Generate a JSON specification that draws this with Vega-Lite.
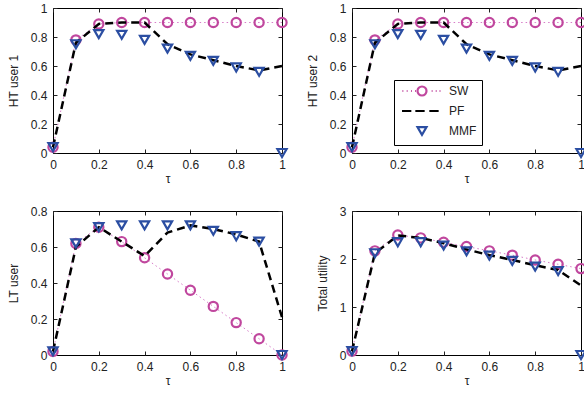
{
  "$schema": "https://vega.github.io/schema/vega-lite/v6.json",
  "padding": {"left": 6, "top": 1, "right": 0, "bottom": 0},
  "background": "white",
  "bounds": "flush",
  "columns": 2,
  "spacing": {"row": 58, "column": 70},
  "resolve": {"scale": {"color": "independent", "shape": "independent"}},
  "config": {
    "font": "Liberation Sans",
    "view": {"stroke": "black", "strokeWidth": 1},
    "axis": {
      "grid": false, "domain": false, "tickSize": -4, "tickColor": "#222", "tickWidth": 1, "labelFlush": false, "format": "~g",
      "labelFont": "Liberation Sans", "labelFontSize": 12, "labelColor": "#222",
      "titleFont": "Liberation Sans", "titleFontSize": 12, "titleFontWeight": "normal", "titleColor": "#222"
    },
    "legend": {"labelFont": "Liberation Sans", "labelFontSize": 12, "labelColor": "#222"}
  },
  "datasets": {
    "d": [
      {"p":"HT1","s":"SW","t":0,"v":0.04},{"p":"HT1","s":"SW","t":0.1,"v":0.78},{"p":"HT1","s":"SW","t":0.2,"v":0.89},{"p":"HT1","s":"SW","t":0.3,"v":0.9},{"p":"HT1","s":"SW","t":0.4,"v":0.9},{"p":"HT1","s":"SW","t":0.5,"v":0.9},{"p":"HT1","s":"SW","t":0.6,"v":0.9},{"p":"HT1","s":"SW","t":0.7,"v":0.9},{"p":"HT1","s":"SW","t":0.8,"v":0.9},{"p":"HT1","s":"SW","t":0.9,"v":0.9},{"p":"HT1","s":"SW","t":1,"v":0.9},
      {"p":"HT1","s":"PF","t":0,"v":0.04},{"p":"HT1","s":"PF","t":0.1,"v":0.76},{"p":"HT1","s":"PF","t":0.2,"v":0.89},{"p":"HT1","s":"PF","t":0.3,"v":0.9},{"p":"HT1","s":"PF","t":0.4,"v":0.9},{"p":"HT1","s":"PF","t":0.5,"v":0.75},{"p":"HT1","s":"PF","t":0.6,"v":0.68},{"p":"HT1","s":"PF","t":0.7,"v":0.64},{"p":"HT1","s":"PF","t":0.8,"v":0.6},{"p":"HT1","s":"PF","t":0.9,"v":0.57},{"p":"HT1","s":"PF","t":1,"v":0.6},
      {"p":"HT1","s":"MMF","t":0,"v":0.04},{"p":"HT1","s":"MMF","t":0.1,"v":0.75},{"p":"HT1","s":"MMF","t":0.2,"v":0.82},{"p":"HT1","s":"MMF","t":0.3,"v":0.815},{"p":"HT1","s":"MMF","t":0.4,"v":0.78},{"p":"HT1","s":"MMF","t":0.5,"v":0.72},{"p":"HT1","s":"MMF","t":0.6,"v":0.67},{"p":"HT1","s":"MMF","t":0.7,"v":0.635},{"p":"HT1","s":"MMF","t":0.8,"v":0.59},{"p":"HT1","s":"MMF","t":0.9,"v":0.56},{"p":"HT1","s":"MMF","t":1,"v":0},
      {"p":"HT2","s":"SW","t":0,"v":0.04},{"p":"HT2","s":"SW","t":0.1,"v":0.78},{"p":"HT2","s":"SW","t":0.2,"v":0.89},{"p":"HT2","s":"SW","t":0.3,"v":0.9},{"p":"HT2","s":"SW","t":0.4,"v":0.9},{"p":"HT2","s":"SW","t":0.5,"v":0.9},{"p":"HT2","s":"SW","t":0.6,"v":0.9},{"p":"HT2","s":"SW","t":0.7,"v":0.9},{"p":"HT2","s":"SW","t":0.8,"v":0.9},{"p":"HT2","s":"SW","t":0.9,"v":0.9},{"p":"HT2","s":"SW","t":1,"v":0.9},
      {"p":"HT2","s":"PF","t":0,"v":0.04},{"p":"HT2","s":"PF","t":0.1,"v":0.76},{"p":"HT2","s":"PF","t":0.2,"v":0.89},{"p":"HT2","s":"PF","t":0.3,"v":0.9},{"p":"HT2","s":"PF","t":0.4,"v":0.9},{"p":"HT2","s":"PF","t":0.5,"v":0.75},{"p":"HT2","s":"PF","t":0.6,"v":0.68},{"p":"HT2","s":"PF","t":0.7,"v":0.64},{"p":"HT2","s":"PF","t":0.8,"v":0.6},{"p":"HT2","s":"PF","t":0.9,"v":0.57},{"p":"HT2","s":"PF","t":1,"v":0.6},
      {"p":"HT2","s":"MMF","t":0,"v":0.04},{"p":"HT2","s":"MMF","t":0.1,"v":0.75},{"p":"HT2","s":"MMF","t":0.2,"v":0.82},{"p":"HT2","s":"MMF","t":0.3,"v":0.815},{"p":"HT2","s":"MMF","t":0.4,"v":0.78},{"p":"HT2","s":"MMF","t":0.5,"v":0.72},{"p":"HT2","s":"MMF","t":0.6,"v":0.67},{"p":"HT2","s":"MMF","t":0.7,"v":0.635},{"p":"HT2","s":"MMF","t":0.8,"v":0.59},{"p":"HT2","s":"MMF","t":0.9,"v":0.56},{"p":"HT2","s":"MMF","t":1,"v":0},
      {"p":"LT","s":"SW","t":0,"v":0.02},{"p":"LT","s":"SW","t":0.1,"v":0.62},{"p":"LT","s":"SW","t":0.2,"v":0.71},{"p":"LT","s":"SW","t":0.3,"v":0.63},{"p":"LT","s":"SW","t":0.4,"v":0.54},{"p":"LT","s":"SW","t":0.5,"v":0.45},{"p":"LT","s":"SW","t":0.6,"v":0.36},{"p":"LT","s":"SW","t":0.7,"v":0.27},{"p":"LT","s":"SW","t":0.8,"v":0.18},{"p":"LT","s":"SW","t":0.9,"v":0.09},{"p":"LT","s":"SW","t":1,"v":0},
      {"p":"LT","s":"PF","t":0,"v":0.02},{"p":"LT","s":"PF","t":0.1,"v":0.6},{"p":"LT","s":"PF","t":0.2,"v":0.71},{"p":"LT","s":"PF","t":0.3,"v":0.63},{"p":"LT","s":"PF","t":0.4,"v":0.55},{"p":"LT","s":"PF","t":0.5,"v":0.68},{"p":"LT","s":"PF","t":0.6,"v":0.72},{"p":"LT","s":"PF","t":0.7,"v":0.7},{"p":"LT","s":"PF","t":0.8,"v":0.67},{"p":"LT","s":"PF","t":0.9,"v":0.63},{"p":"LT","s":"PF","t":1,"v":0.21},
      {"p":"LT","s":"MMF","t":0,"v":0.02},{"p":"LT","s":"MMF","t":0.1,"v":0.62},{"p":"LT","s":"MMF","t":0.2,"v":0.71},{"p":"LT","s":"MMF","t":0.3,"v":0.72},{"p":"LT","s":"MMF","t":0.4,"v":0.72},{"p":"LT","s":"MMF","t":0.5,"v":0.72},{"p":"LT","s":"MMF","t":0.6,"v":0.72},{"p":"LT","s":"MMF","t":0.7,"v":0.69},{"p":"LT","s":"MMF","t":0.8,"v":0.66},{"p":"LT","s":"MMF","t":0.9,"v":0.63},{"p":"LT","s":"MMF","t":1,"v":0},
      {"p":"TU","s":"SW","t":0,"v":0.08},{"p":"TU","s":"SW","t":0.1,"v":2.17},{"p":"TU","s":"SW","t":0.2,"v":2.5},{"p":"TU","s":"SW","t":0.3,"v":2.44},{"p":"TU","s":"SW","t":0.4,"v":2.35},{"p":"TU","s":"SW","t":0.5,"v":2.26},{"p":"TU","s":"SW","t":0.6,"v":2.17},{"p":"TU","s":"SW","t":0.7,"v":2.08},{"p":"TU","s":"SW","t":0.8,"v":1.98},{"p":"TU","s":"SW","t":0.9,"v":1.89},{"p":"TU","s":"SW","t":1,"v":1.8},
      {"p":"TU","s":"PF","t":0,"v":0.08},{"p":"TU","s":"PF","t":0.1,"v":2.12},{"p":"TU","s":"PF","t":0.2,"v":2.49},{"p":"TU","s":"PF","t":0.3,"v":2.44},{"p":"TU","s":"PF","t":0.4,"v":2.33},{"p":"TU","s":"PF","t":0.5,"v":2.2},{"p":"TU","s":"PF","t":0.6,"v":2.08},{"p":"TU","s":"PF","t":0.7,"v":1.98},{"p":"TU","s":"PF","t":0.8,"v":1.87},{"p":"TU","s":"PF","t":0.9,"v":1.77},{"p":"TU","s":"PF","t":1,"v":1.45},
      {"p":"TU","s":"MMF","t":0,"v":0.08},{"p":"TU","s":"MMF","t":0.1,"v":2.12},{"p":"TU","s":"MMF","t":0.2,"v":2.35},{"p":"TU","s":"MMF","t":0.3,"v":2.35},{"p":"TU","s":"MMF","t":0.4,"v":2.28},{"p":"TU","s":"MMF","t":0.5,"v":2.16},{"p":"TU","s":"MMF","t":0.6,"v":2.07},{"p":"TU","s":"MMF","t":0.7,"v":1.96},{"p":"TU","s":"MMF","t":0.8,"v":1.84},{"p":"TU","s":"MMF","t":0.9,"v":1.75},{"p":"TU","s":"MMF","t":1,"v":0}
    ]
  },
  "concat": [
    {
      "width": 229, "height": 145,
      "data": {"name": "d"},
      "transform": [{"filter": "datum.p == 'HT1'"}],
      "resolve": {"axis": {"x": "independent", "y": "independent"}},
      "layer": [
        {"transform": [{"filter": "datum.s == 'SW'"}], "mark": {"type": "line", "color": "#d77cc8", "strokeWidth": 1, "strokeDash": [1.5, 3]},
         "encoding": {"x": {"field": "t", "type": "quantitative", "scale": {"domain": [0, 1], "nice": false}, "axis": {"values": [0,0.2,0.4,0.6,0.8,1], "title": "τ", "labelPadding": 10, "titlePadding": 3}},
                      "y": {"field": "v", "type": "quantitative", "scale": {"domain": [0, 1], "nice": false}, "axis": {"values": [0,0.2,0.4,0.6,0.8,1], "title": "HT user 1", "labelPadding": 10, "titlePadding": 10}}}},
        {"transform": [{"filter": "datum.s == 'SW'"}], "mark": {"type": "point", "shape": "circle", "filled": false, "color": "#c0479e", "strokeWidth": 2.2, "size": 85, "opacity": 1},
         "encoding": {"x": {"field": "t", "type": "quantitative", "axis": null}, "y": {"field": "v", "type": "quantitative", "axis": null}}},
        {"transform": [{"filter": "datum.s == 'PF'"}], "mark": {"type": "line", "color": "black", "strokeWidth": 2.5, "strokeDash": [8, 5]},
         "encoding": {"x": {"field": "t", "type": "quantitative", "axis": null}, "y": {"field": "v", "type": "quantitative", "axis": null}}},
        {"transform": [{"filter": "datum.s == 'MMF'"}], "mark": {"type": "point", "shape": "triangle-down", "filled": false, "color": "#2b4ea2", "strokeWidth": 2.2, "size": 85, "opacity": 1},
         "encoding": {"x": {"field": "t", "type": "quantitative", "axis": {"orient": "top", "values": [0,0.2,0.4,0.6,0.8,1], "labels": false, "title": null}},
                      "y": {"field": "v", "type": "quantitative", "axis": {"orient": "right", "values": [0,0.2,0.4,0.6,0.8,1], "labels": false, "title": null}}}}
      ]
    },
    {
      "width": 229, "height": 145,
      "data": {"name": "d"},
      "transform": [{"filter": "datum.p == 'HT2'"}],
      "resolve": {"axis": {"x": "independent", "y": "independent"}},
      "layer": [
        {"transform": [{"filter": "datum.s == 'SW'"}], "mark": {"type": "line", "color": "#d77cc8", "strokeWidth": 1, "strokeDash": [1.5, 3]},
         "encoding": {"x": {"field": "t", "type": "quantitative", "scale": {"domain": [0, 1], "nice": false}, "axis": {"values": [0,0.2,0.4,0.6,0.8,1], "title": "τ", "labelPadding": 10, "titlePadding": 3}},
                      "y": {"field": "v", "type": "quantitative", "scale": {"domain": [0, 1], "nice": false}, "axis": {"values": [0,0.2,0.4,0.6,0.8,1], "title": "HT user 2", "labelPadding": 10, "titlePadding": 10}}}},
        {"transform": [{"filter": "datum.s == 'SW'"}], "mark": {"type": "point", "shape": "circle", "filled": false, "color": "#c0479e", "strokeWidth": 2.2, "size": 85, "opacity": 1},
         "encoding": {"x": {"field": "t", "type": "quantitative", "axis": null}, "y": {"field": "v", "type": "quantitative", "axis": null}}},
        {"transform": [{"filter": "datum.s == 'PF'"}], "mark": {"type": "line", "color": "black", "strokeWidth": 2.5, "strokeDash": [8, 5]},
         "encoding": {"x": {"field": "t", "type": "quantitative", "axis": null}, "y": {"field": "v", "type": "quantitative", "axis": null}}},
        {"transform": [{"filter": "datum.s == 'MMF'"}], "mark": {"type": "point", "shape": "triangle-down", "filled": false, "color": "#2b4ea2", "strokeWidth": 2.2, "size": 85, "opacity": 1},
         "encoding": {"x": {"field": "t", "type": "quantitative", "axis": {"orient": "top", "values": [0,0.2,0.4,0.6,0.8,1], "labels": false, "title": null}},
                      "y": {"field": "v", "type": "quantitative", "axis": {"orient": "right", "values": [0,0.2,0.4,0.6,0.8,1], "labels": false, "title": null}}}},
        {"transform": [{"filter": "datum.s == 'none'"}], "mark": {"type": "point", "filled": false, "strokeWidth": 2.2, "size": 81, "opacity": 1},
         "encoding": {"x": {"field": "t", "type": "quantitative", "axis": null}, "y": {"field": "v", "type": "quantitative", "axis": null},
                      "color": {"field": "s", "type": "nominal", "scale": {"domain": ["SW","PF","MMF"], "range": ["#c0479e","black","#2b4ea2"]},
                                "legend": {"title": null, "orient": "none", "legendX": 42, "legendY": 72, "strokeColor": "black", "fillColor": "white", "cornerRadius": 0, "padding": 5, "symbolOffset": 17, "labelOffset": 21, "rowPadding": 5, "symbolStrokeWidth": 2.2, "symbolSize": 81, "symbolFillColor": "transparent"}},
                      "shape": {"field": "s", "type": "nominal", "scale": {"domain": ["SW","PF","MMF"], "range": ["M1,0A1,1 0 1,1 -1,0A1,1 0 1,1 1,0M-4.35,0H-4.15M-3.4,0H-3.2M-2.45,0H-2.25M-1.55,0H-1.35M2.15,0H2.35M3.05,0H3.25M3.9,0H4.1","M-4.44,0H-2.37M-1.48,0H0.59M1.63,0H3.7","triangle-down"]},
                                "legend": {"title": null, "orient": "none", "legendX": 42, "legendY": 72, "strokeColor": "black", "fillColor": "white", "cornerRadius": 0, "padding": 5, "symbolOffset": 17, "labelOffset": 21, "rowPadding": 5, "symbolStrokeWidth": 2.2, "symbolSize": 81, "symbolFillColor": "transparent"}}}}
      ]
    },
    {
      "width": 229, "height": 144,
      "data": {"name": "d"},
      "transform": [{"filter": "datum.p == 'LT'"}],
      "resolve": {"axis": {"x": "independent", "y": "independent"}},
      "layer": [
        {"transform": [{"filter": "datum.s == 'SW'"}], "mark": {"type": "line", "color": "#d77cc8", "strokeWidth": 1, "strokeDash": [1.5, 3]},
         "encoding": {"x": {"field": "t", "type": "quantitative", "scale": {"domain": [0, 1], "nice": false}, "axis": {"values": [0,0.2,0.4,0.6,0.8,1], "title": "τ", "labelPadding": 10, "titlePadding": 3}},
                      "y": {"field": "v", "type": "quantitative", "scale": {"domain": [0, 0.8], "nice": false}, "axis": {"values": [0,0.2,0.4,0.6,0.8], "title": "LT user", "labelPadding": 10, "titlePadding": 10}}}},
        {"transform": [{"filter": "datum.s == 'SW'"}], "mark": {"type": "point", "shape": "circle", "filled": false, "color": "#c0479e", "strokeWidth": 2.2, "size": 85, "opacity": 1},
         "encoding": {"x": {"field": "t", "type": "quantitative", "axis": null}, "y": {"field": "v", "type": "quantitative", "axis": null}}},
        {"transform": [{"filter": "datum.s == 'PF'"}], "mark": {"type": "line", "color": "black", "strokeWidth": 2.5, "strokeDash": [8, 5]},
         "encoding": {"x": {"field": "t", "type": "quantitative", "axis": null}, "y": {"field": "v", "type": "quantitative", "axis": null}}},
        {"transform": [{"filter": "datum.s == 'MMF'"}], "mark": {"type": "point", "shape": "triangle-down", "filled": false, "color": "#2b4ea2", "strokeWidth": 2.2, "size": 85, "opacity": 1},
         "encoding": {"x": {"field": "t", "type": "quantitative", "axis": {"orient": "top", "values": [0,0.2,0.4,0.6,0.8,1], "labels": false, "title": null}},
                      "y": {"field": "v", "type": "quantitative", "axis": {"orient": "right", "values": [0,0.2,0.4,0.6,0.8], "labels": false, "title": null}}}}
      ]
    },
    {
      "width": 229, "height": 144,
      "data": {"name": "d"},
      "transform": [{"filter": "datum.p == 'TU'"}],
      "resolve": {"axis": {"x": "independent", "y": "independent"}},
      "layer": [
        {"transform": [{"filter": "datum.s == 'SW'"}], "mark": {"type": "line", "color": "#d77cc8", "strokeWidth": 1, "strokeDash": [1.5, 3]},
         "encoding": {"x": {"field": "t", "type": "quantitative", "scale": {"domain": [0, 1], "nice": false}, "axis": {"values": [0,0.2,0.4,0.6,0.8,1], "title": "τ", "labelPadding": 10, "titlePadding": 3}},
                      "y": {"field": "v", "type": "quantitative", "scale": {"domain": [0, 3], "nice": false}, "axis": {"values": [0,1,2,3], "title": "Total utility", "labelPadding": 10, "titlePadding": 10}}}},
        {"transform": [{"filter": "datum.s == 'SW'"}], "mark": {"type": "point", "shape": "circle", "filled": false, "color": "#c0479e", "strokeWidth": 2.2, "size": 85, "opacity": 1},
         "encoding": {"x": {"field": "t", "type": "quantitative", "axis": null}, "y": {"field": "v", "type": "quantitative", "axis": null}}},
        {"transform": [{"filter": "datum.s == 'PF'"}], "mark": {"type": "line", "color": "black", "strokeWidth": 2.5, "strokeDash": [8, 5]},
         "encoding": {"x": {"field": "t", "type": "quantitative", "axis": null}, "y": {"field": "v", "type": "quantitative", "axis": null}}},
        {"transform": [{"filter": "datum.s == 'MMF'"}], "mark": {"type": "point", "shape": "triangle-down", "filled": false, "color": "#2b4ea2", "strokeWidth": 2.2, "size": 85, "opacity": 1},
         "encoding": {"x": {"field": "t", "type": "quantitative", "axis": {"orient": "top", "values": [0,0.2,0.4,0.6,0.8,1], "labels": false, "title": null}},
                      "y": {"field": "v", "type": "quantitative", "axis": {"orient": "right", "values": [0,1,2,3], "labels": false, "title": null}}}}
      ]
    }
  ]
}
